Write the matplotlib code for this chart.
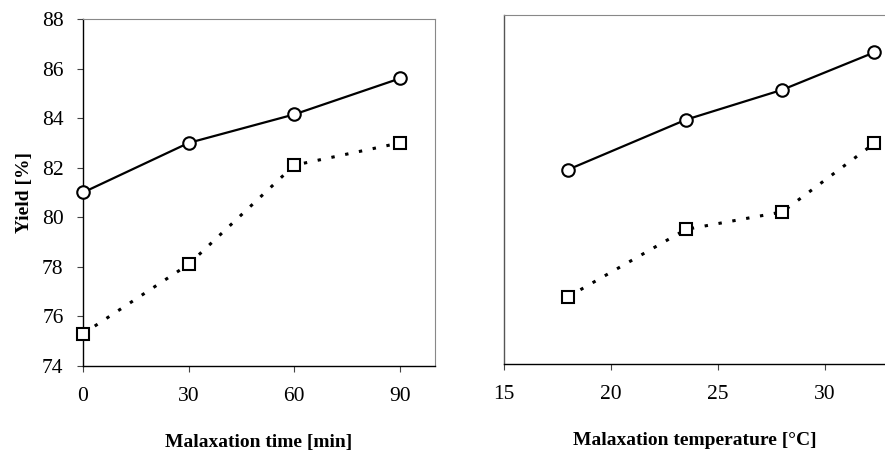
import matplotlib
matplotlib.use("Agg")
import matplotlib.pyplot as plt

# ---- data ----
time_min = [0, 30, 60, 90]
time_circle = [81.0, 83.0, 84.15, 85.6]
time_square = [75.3, 78.1, 82.1, 83.0]

temp_c = [18.0, 23.5, 28.0, 32.3]
temp_circle = [81.8, 83.8, 85.0, 86.5]
temp_square = [76.7, 79.4, 80.1, 82.85]

time_ticks = [0, 30, 60, 90]
temp_ticks = [15, 20, 25, 30]
yield_ticks = [74, 76, 78, 80, 82, 84, 86, 88]

plt.rcParams['font.family'] = ['Liberation Serif', 'DejaVu Serif']

fig = plt.figure(figsize=(8.85, 4.5), dpi=100)
W, H = 885, 450

def place(l, r, t, b):
    return [l / W, 1 - b / H, (r - l) / W, (b - t) / H]

ax1 = fig.add_axes(place(83, 435, 19, 366))
ax2 = fig.add_axes(place(504, 885, 15, 364))

line_kw = dict(color='black')
mk_kw = dict(markersize=9, markerfacecolor='white', markeredgecolor='black',
             markeredgewidth=1.5)

for ax, x, yc, ys in [(ax1, time_min, time_circle, time_square),
                      (ax2, temp_c, temp_circle, temp_square)]:
    ax.plot(x, yc, '-', lw=1.6, marker='o', zorder=3, clip_on=False, **line_kw, **mk_kw)
    ax.plot(x, ys, linestyle=(0, (1.1, 3.5)), lw=2.2, marker='s', zorder=3,
            clip_on=False, **line_kw, **mk_kw)
    ax.set_ylim(74, 88)
    for s in ['top', 'right']:
        ax.spines[s].set_color('#888888')
        ax.spines[s].set_linewidth(0.8)
    for s in ['bottom', 'left']:
        ax.spines[s].set_color('black')
        ax.spines[s].set_linewidth(1.0)
    ax.tick_params(direction='out', length=4, width=0.8, labelsize=15.5, pad=11,
                   color='#444444')

ax1.set_xlim(0, 100)
ax1.set_xticks(time_ticks)
ax1.set_yticks(yield_ticks)
ax1.tick_params(axis='y', pad=10)
ax1.set_ylabel('Yield [%]', fontsize=14, fontweight='bold', labelpad=6)
ax1.set_xlabel('Malaxation time [min]', fontsize=14, fontweight='bold', labelpad=20)

ax2.set_xlim(15, 32.8)
ax2.set_xticks(temp_ticks)
ax2.set_yticks(yield_ticks)
ax2.tick_params(axis='y', left=False, labelleft=False)
ax2.spines['right'].set_visible(False)
ax2.spines['left'].set_color('#555555')
ax2.set_xlabel('Malaxation temperature [°C]', fontsize=14, fontweight='bold', labelpad=20)

fig.savefig('out.png', dpi=100)
